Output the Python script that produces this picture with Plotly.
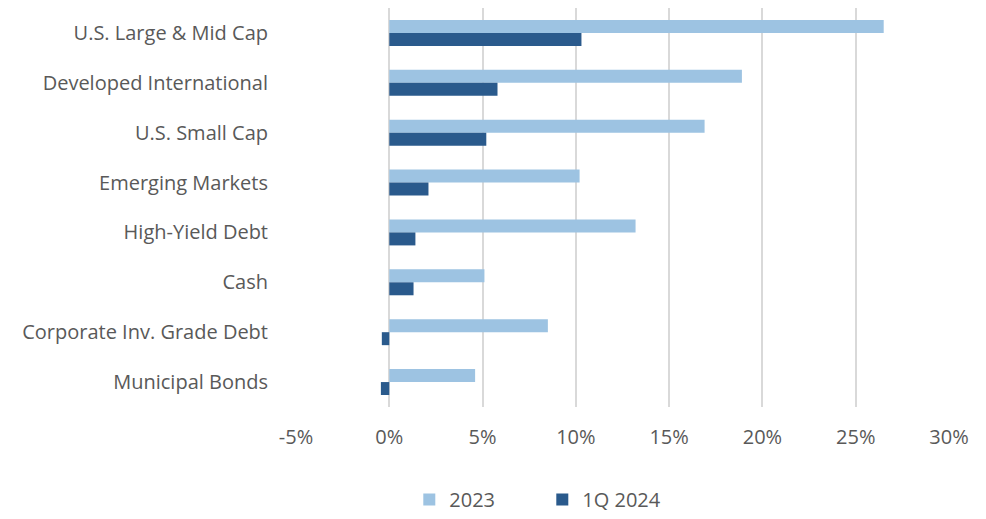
import plotly.graph_objects as go

categories = ["U.S. Large & Mid Cap", "Developed International", "U.S. Small Cap",
              "Emerging Markets", "High-Yield Debt", "Cash",
              "Corporate Inv. Grade Debt", "Municipal Bonds"]
vals_2023 = [26.5, 18.9, 16.9, 10.2, 13.2, 5.1, 8.5, 4.6]
vals_1q2024 = [10.3, 5.8, 5.2, 2.1, 1.4, 1.3, -0.4, -0.45]
tick_vals = [-5, 0, 5, 10, 15, 20, 25, 30]
tick_text = ["-5%", "0%", "5%", "10%", "15%", "20%", "25%", "30%"]

font_family = "'Open Sans', sans-serif"
text_color = "#595959"

fig = go.Figure()
fig.add_trace(go.Bar(y=categories, x=vals_2023, orientation="h", name="2023",
                     marker=dict(color="#9DC3E2", line=dict(width=0))))
fig.add_trace(go.Bar(y=categories, x=vals_1q2024, orientation="h", name="1Q 2024",
                     marker=dict(color="#2A5A8C", line=dict(width=0))))

fig.update_layout(
    width=986, height=519,
    margin=dict(l=296, r=37, t=8, b=112),
    paper_bgcolor="white", plot_bgcolor="white",
    barmode="group", bargap=0.48, bargroupgap=0,
    font=dict(family=font_family, size=20, color=text_color),
    legend=dict(orientation="h", xref="container", x=0.55, xanchor="center",
                yref="container", y=0.0, yanchor="bottom",
                font=dict(size=20, color=text_color), itemwidth=30,
                entrywidth=88, entrywidthmode="pixels",
                traceorder="normal"),
    showlegend=True,
)
fig.update_xaxes(range=[-5, 30], tickvals=tick_vals, ticktext=tick_text,
                 showgrid=True, gridcolor="#D9D9D9", gridwidth=1.5,
                 zeroline=True, zerolinecolor="#D9D9D9", zerolinewidth=1.5,
                 showline=False, ticks="", ticklabelstandoff=16)
fig.update_yaxes(autorange="reversed", showgrid=False, showline=False, ticks="",
                 ticklabelstandoff=27)

fig.write_html("out.html")
